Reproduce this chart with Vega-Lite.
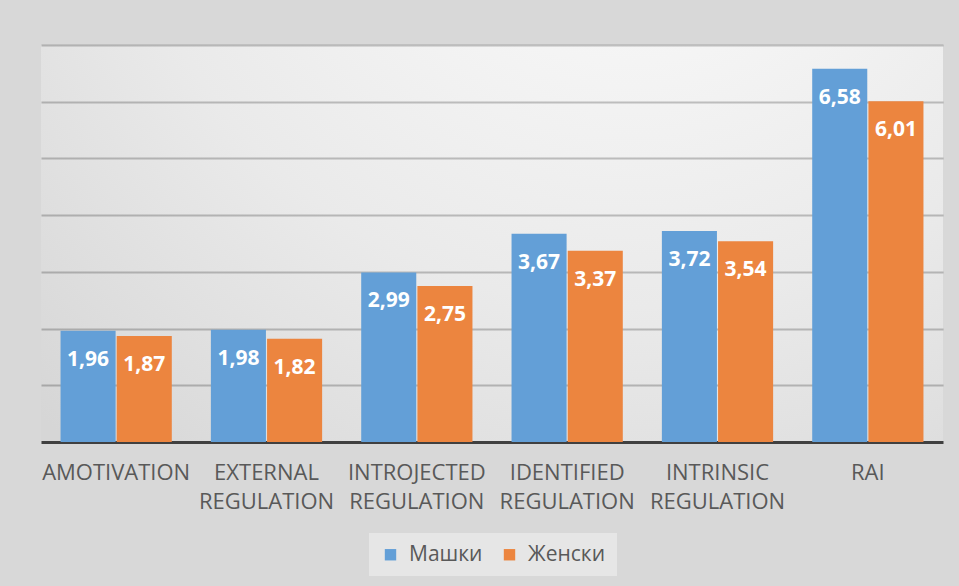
{
  "$schema": "https://vega.github.io/schema/vega-lite/v6.json",
  "width": 902,
  "height": 397,
  "autosize": {"type": "none"},
  "padding": {"left": 41, "top": 45, "right": 16, "bottom": 144},
  "background": "#d8d8d8",
  "config": {
    "locale": {"number": {"decimal": ",", "thousands": ".", "grouping": [3], "currency": ["", ""]}},
    "view": {
      "stroke": null,
      "fill": {"gradient": "radial", "x1": 0.65, "y1": 0.0, "r1": 0, "x2": 0.65, "y2": 0.0, "r2": 0.95,
        "stops": [{"offset": 0, "color": "#ffffff"}, {"offset": 0.6, "color": "#eaeaea"}, {"offset": 1, "color": "#d6d6d6"}]}
    },
    "font": "Open Sans"
  },
  "data": {
    "values": [
      {"category": "AMOTIVATION", "group": "Машки", "value": 1.96},
      {"category": "AMOTIVATION", "group": "Женски", "value": 1.87},
      {"category": "EXTERNAL REGULATION", "group": "Машки", "value": 1.98},
      {"category": "EXTERNAL REGULATION", "group": "Женски", "value": 1.82},
      {"category": "INTROJECTED REGULATION", "group": "Машки", "value": 2.99},
      {"category": "INTROJECTED REGULATION", "group": "Женски", "value": 2.75},
      {"category": "IDENTIFIED REGULATION", "group": "Машки", "value": 3.67},
      {"category": "IDENTIFIED REGULATION", "group": "Женски", "value": 3.37},
      {"category": "INTRINSIC REGULATION", "group": "Машки", "value": 3.72},
      {"category": "INTRINSIC REGULATION", "group": "Женски", "value": 3.54},
      {"category": "RAI", "group": "Машки", "value": 6.58},
      {"category": "RAI", "group": "Женски", "value": 6.01}
    ]
  },
  "encoding": {
    "x": {
      "field": "category", "type": "nominal", "sort": null,
      "scale": {"paddingInner": 0.26, "paddingOuter": 0.13},
      "axis": {
        "title": null, "labelAngle": 0, "ticks": false,
        "labelExpr": "split(datum.label, ' ')",
        "labelFont": "Open Sans", "labelFontSize": 22, "labelColor": "#595959",
        "labelLineHeight": 29, "labelPadding": 20, "labelBaseline": "top",
        "domainColor": "#404040", "domainWidth": 3, "grid": false
      }
    },
    "xOffset": {"field": "group", "type": "nominal", "sort": ["Машки", "Женски"], "scale": {"paddingInner": 0.02}},
    "y": {
      "field": "value", "type": "quantitative",
      "scale": {"domain": [0, 7], "nice": false},
      "axis": {
        "title": null, "labels": false, "ticks": false, "domain": false,
        "values": [1, 2, 3, 4, 5, 6, 7],
        "grid": true, "gridColor": "#000000", "gridOpacity": 0.22, "gridWidth": 2
      }
    }
  },
  "layer": [
    {
      "mark": {"type": "bar"},
      "encoding": {
        "color": {
          "field": "group", "type": "nominal",
          "sort": ["Машки", "Женски"],
          "scale": {"domain": ["Машки", "Женски"], "range": ["#639fd7", "#ec853f"]},
          "legend": {
            "title": null, "orient": "none", "legendX": 328, "legendY": 488, "direction": "horizontal",
            "symbolType": "square", "symbolSize": 130, "symbolStrokeWidth": 0,
            "labelFont": "Open Sans", "labelFontSize": 21, "labelColor": "#595959",
            "labelOffset": 8, "columnPadding": 16,
            "fillColor": "#e6e6e6", "padding": 11
          }
        }
      }
    },
    {
      "mark": {"type": "text", "color": "#ffffff", "fontWeight": "bold", "fontSize": 21, "font": "Open Sans", "baseline": "middle", "dy": 29},
      "encoding": {
        "text": {"field": "value", "type": "quantitative", "format": ".2f"}
      }
    }
  ]
}
